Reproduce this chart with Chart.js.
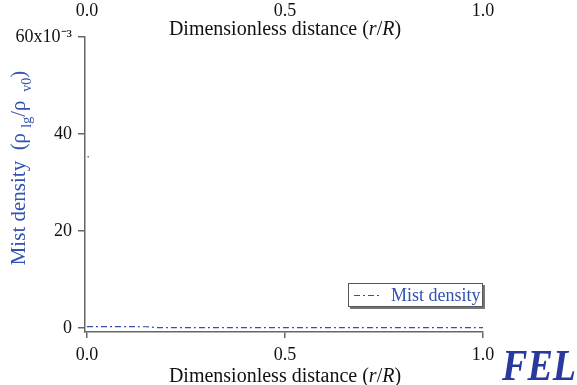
<!DOCTYPE html>
<html>
<head>
<meta charset="utf-8">
<script src="https://cdn.jsdelivr.net/npm/chart.js@4.4.1/dist/chart.umd.min.js"></script>
<style>
  html, body { margin: 0; padding: 0; background: #fff; }
  #wrap { width: 577px; height: 385px; position: relative; }
</style>
</head>
<body>
<div id="wrap"><canvas id="c" width="577" height="385"></canvas></div>
<script>
// r/R positions and mist density (rho_lg / rho_v0)
const distance = [0, 0.05, 0.1, 0.15, 0.18, 0.25, 0.35, 0.45, 0.55, 0.65, 0.75, 0.85, 0.95, 1.0];
const mistDensity = [0.0003, 0.0003, 0.0003, 0.00028, 0.0001, 0.0001, 0.0001, 0.0001, 0.0001, 0.0001, 0.0001, 0.0001, 0.0001, 0.0001];
// stray point near the axis
const strayX = [0.003];
const strayY = [0.0353];
const xTicks = [0, 0.5, 1.0];
const yTicks = [0, 0.02, 0.04, 0.06];

const blue = '#3352b0';
const serif = '"Liberation Serif", "Times New Roman", serif';

const titles = {
  id: 'titles',
  afterDraw(chart) {
    const ctx = chart.ctx;
    const xs = chart.scales.x;
    const cx = xs.getPixelForValue(0.5);
    ctx.save();
    // x axis titles (top and bottom)
    function xTitle(y) {
      const parts = [['Dimensionless distance (', ''], ['r', 'italic '], ['/', ''], ['R', 'italic '], [')', '']];
      let w = 0;
      parts.forEach(p => { ctx.font = p[1] + '20px ' + serif; w += ctx.measureText(p[0]).width; });
      let x = cx - w / 2;
      ctx.fillStyle = '#111';
      ctx.textBaseline = 'alphabetic';
      ctx.textAlign = 'left';
      parts.forEach(p => { ctx.font = p[1] + '20px ' + serif; ctx.fillText(p[0], x, y); x += ctx.measureText(p[0]).width; });
    }
    xTitle(35);
    xTitle(382);

    // y axis title with subscripts
    const yparts = [['Mist density  (\u03c1 ', 0], ['lg', 1], ['/\u03c1 ', 0], [' v0', 1], [')', 0]];
    let w = 0;
    yparts.forEach(p => { ctx.font = (p[1] ? '14px ' : '21px ') + serif; w += ctx.measureText(p[0]).width; });
    ctx.translate(25, 168);
    ctx.rotate(-Math.PI / 2);
    let x = -w / 2;
    ctx.fillStyle = blue;
    ctx.textAlign = 'left';
    yparts.forEach(p => {
      ctx.font = (p[1] ? '14px ' : '21px ') + serif;
      ctx.fillText(p[0], x, p[1] ? 6 : 0);
      x += ctx.measureText(p[0]).width;
    });
    ctx.restore();

    // legend box
    const ds = chart.data.datasets[0];
    ctx.save();
    ctx.fillStyle = '#777';
    ctx.fillRect(350, 285, 135, 24);
    ctx.fillStyle = '#fff';
    ctx.fillRect(348, 283, 135, 24);
    ctx.strokeStyle = '#555';
    ctx.lineWidth = 1;
    ctx.strokeRect(348.5, 283.5, 134, 23);
    ctx.strokeStyle = ds.borderColor;
    ctx.setLineDash(ds.borderDash);
    ctx.beginPath();
    ctx.moveTo(354, 295.5);
    ctx.lineTo(381, 295.5);
    ctx.stroke();
    ctx.setLineDash([]);
    ctx.fillStyle = blue;
    ctx.font = '18px ' + serif;
    ctx.textBaseline = 'alphabetic';
    ctx.textAlign = 'left';
    ctx.fillText(ds.label, 391, 301);

    // FEL mark
    ctx.fillStyle = '#2a3a9c';
    ctx.font = 'italic bold 45px ' + serif;
    const fw = ctx.measureText('FEL').width;
    ctx.translate(502, 380);
    ctx.scale(74 / fw, 1);
    ctx.fillText('FEL', 0, 0);
    ctx.restore();
  }
};

new Chart(document.getElementById('c'), {
  type: 'line',
  data: {
    datasets: [{
      label: 'Mist density',
      data: distance.map((d, i) => ({ x: d, y: mistDensity[i] })),
      borderColor: blue,
      borderWidth: 1.2,
      borderDash: [6, 3, 2, 3],
      pointRadius: 0,
      fill: false
    }, {
      label: 'stray',
      data: strayX.map((d, i) => ({ x: d, y: strayY[i] })),
      showLine: false,
      pointRadius: 0.8,
      pointBorderWidth: 0,
      backgroundColor: blue
    }]
  },
  options: {
    responsive: false,
    animation: false,
    devicePixelRatio: 1,
    layout: { padding: { left: 0, right: 94, top: 2, bottom: 0 } },
    plugins: { legend: { display: false }, tooltip: { enabled: false } },
    scales: {
      x: {
        type: 'linear', position: 'bottom', min: -0.005, max: 1.0,
        afterBuildTicks: s => { s.ticks = xTicks.map(v => ({ value: v })); },
        afterFit: s => { s.height = 53; },
        grid: { drawOnChartArea: false, drawTicks: true, tickLength: 6, color: '#666', lineWidth: 1.5 },
        border: { display: true, color: '#666', width: 1.5 },
        ticks: { color: '#111', font: { family: serif, size: 18 }, padding: 6, maxRotation: 0,
                 callback: v => v.toFixed(1) }
      },
      x2: {
        type: 'linear', position: 'top', min: -0.005, max: 1.0,
        afterBuildTicks: s => { s.ticks = xTicks.map(v => ({ value: v })); },
        afterFit: s => { s.height = 35; },
        grid: { display: false, drawTicks: false },
        border: { display: false },
        ticks: { color: '#111', font: { family: serif, size: 18 }, padding: 15, maxRotation: 0,
                 callback: v => v.toFixed(1) }
      },
      y: {
        type: 'linear', min: -0.0008, max: 0.06,
        afterBuildTicks: s => { s.ticks = yTicks.map(v => ({ value: v })); },
        afterFit: s => { s.width = 85; },
        grid: { drawOnChartArea: false, drawTicks: true, tickLength: 7, color: '#666', lineWidth: 1.5 },
        border: { display: true, color: '#666', width: 1.5 },
        ticks: { color: '#111', font: { family: serif, size: 18 }, padding: 6,
                 callback: v => v === 0.06 ? '60x10\u207b\u00b3' : String(Math.round(v * 1000)) }
      }
    }
  },
  plugins: [titles]
});
</script>
</body>
</html>
